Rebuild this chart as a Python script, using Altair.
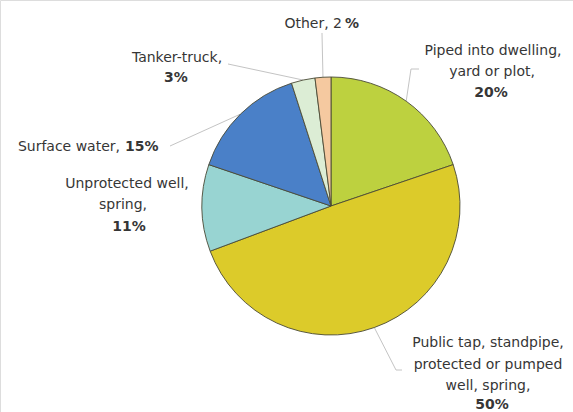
import altair as alt
import pandas as pd

# ---- data ----
categories = ["Piped into dwelling, yard or plot",
              "Public tap, standpipe, protected or pumped well, spring",
              "Unprotected well, spring",
              "Surface water",
              "Tanker-truck",
              "Other"]
values = [20, 50, 11, 15, 3, 2]
colors = ["#BDD13F", "#DCCB2A", "#98D4D2", "#4A80C8", "#DCEDD5", "#F5C9A0"]

# ---- label layout (annotation positions) ----
label_lines = [
    # text, x, y, kind
    ("Other, 2", 342, 28, "nr"), ("%", 345, 28, "bl"),
    ("Tanker-truck,", 177, 62, "nc"), ("3%", 176, 82, "bc"),
    ("Piped into dwelling,", 493, 55, "nc"), ("yard or plot,", 492, 76, "nc"), ("20%", 491, 97, "bc"),
    ("Surface water,", 120, 151, "nr"), ("15%", 125, 151, "bl"),
    ("Unprotected well,", 127, 188, "nc"), ("spring,", 123, 209, "nc"), ("11%", 129, 231, "bc"),
    ("Public tap, standpipe,", 488, 347, "nc"), ("protected or pumped", 488, 369, "nc"),
    ("well, spring,", 488, 390, "nc"), ("50%", 492, 409, "bc"),
]
# leader line elbow (kx, ky) and end (lx, ly) per category
elbow_x = [411, 396, 127, 170, 228, 322]
elbow_y = [69, 370, 188, 146, 64, 33]
end_x = [419, 402, 127, 170, 228, 322]
end_y = [69, 370, 188, 146, 64, 33]
has_line = [True, True, False, True, True, True]

W, H = 573, 412
CX, CY, R = 331, 206, 129

df = pd.DataFrame({"cat": categories, "value": values, "order": list(range(len(values))),
                   "kx": elbow_x, "ky": elbow_y, "lx": end_x, "ly": end_y, "line": has_line})
lab = pd.DataFrame(label_lines, columns=["t", "x", "y", "kind"])

xs = alt.Scale(domain=[0, W], range=[0, W], zero=False, nice=False)
ys = alt.Scale(domain=[0, H], range=[0, H], zero=False, nice=False)

base = alt.Chart(df)

pie = base.mark_arc(outerRadius=R, stroke="#4a4a35", strokeWidth=0.9).encode(
    theta=alt.Theta("value:Q", stack=True),
    color=alt.Color("cat:N", scale=alt.Scale(domain=categories, range=colors), legend=None),
    order=alt.Order("order:Q"),
    x=alt.value(CX), y=alt.value(CY),
)

lines_base = base.transform_window(
    cum="sum(value)", sort=[alt.SortField("order")], frame=[None, 0]
).transform_joinaggregate(total="sum(value)").transform_calculate(
    mid=f"2*PI*(datum.cum - datum.value/2)/datum.total"
).transform_calculate(
    ex=f"{CX} + {R}*sin(datum.mid)", ey=f"{CY} - {R}*cos(datum.mid)"
).transform_filter("datum.line")

seg1 = lines_base.mark_rule(color="#c4c4c4", strokeWidth=1).encode(
    x=alt.X("ex:Q", scale=xs, axis=None), y=alt.Y("ey:Q", scale=ys, axis=None),
    x2="kx:Q", y2="ky:Q")
seg2 = lines_base.mark_rule(color="#c4c4c4", strokeWidth=1).encode(
    x=alt.X("kx:Q", scale=xs, axis=None), y=alt.Y("ky:Q", scale=ys, axis=None),
    x2="lx:Q", y2="ly:Q")

FONT = "DejaVu Sans"
FS = 14
TC = "#363636"

def text_layer(kind, align, weight):
    return alt.Chart(lab).transform_filter(f"datum.kind == '{kind}'").mark_text(
        font=FONT, fontSize=FS, align=align, baseline="alphabetic",
        fontWeight=weight, color=TC).encode(
        x=alt.X("x:Q", scale=xs, axis=None), y=alt.Y("y:Q", scale=ys, axis=None), text="t:N")

texts = [text_layer("nc", "center", "normal"), text_layer("bc", "center", "bold"),
         text_layer("nr", "right", "normal"), text_layer("bl", "left", "bold")]

chart = alt.layer(seg1, seg2, pie, *texts).properties(
    width=W, height=H, padding=0, autosize="none"
).configure_view(stroke=None).configure(background="white")

chart.save("out.html", embed_options={"renderer": "svg", "actions": False})
